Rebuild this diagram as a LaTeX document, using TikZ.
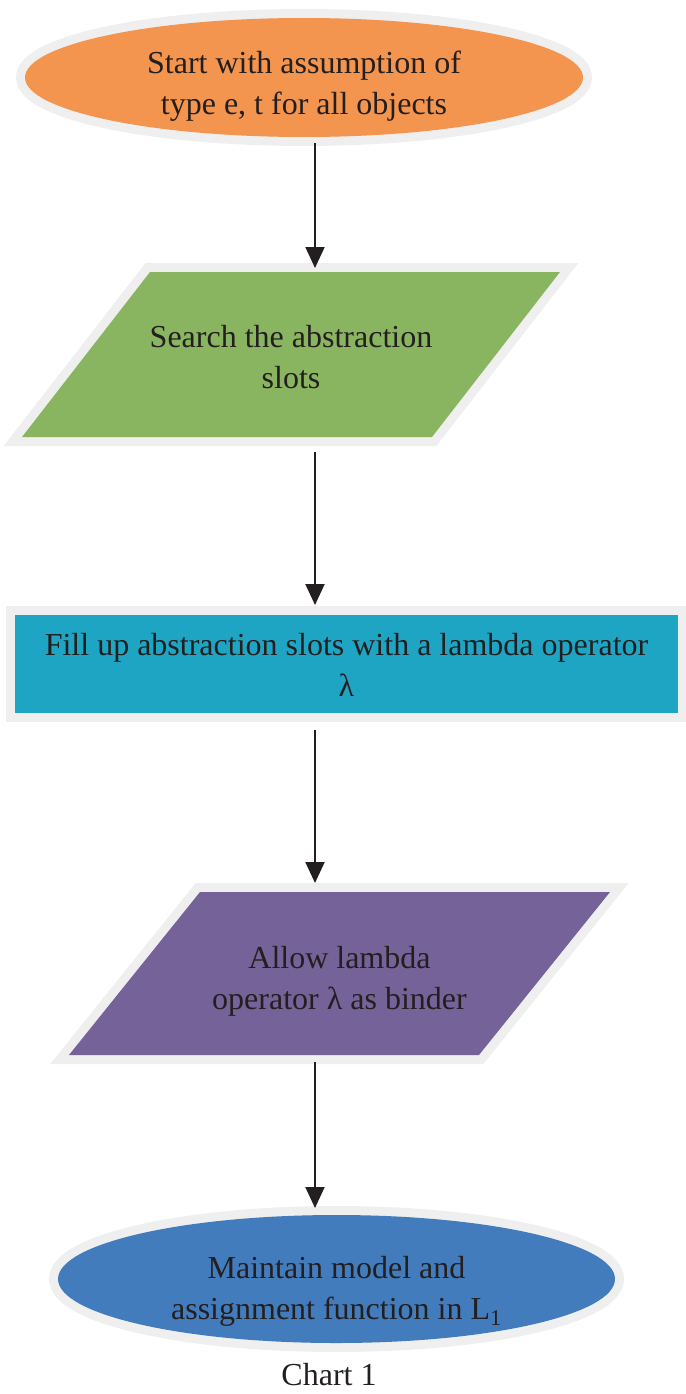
\documentclass[tikz,border=0pt]{standalone}
\usepackage{fontspec}
\setmainfont{Liberation Serif}
\usetikzlibrary{shapes.geometric,arrows.meta}
\definecolor{edgegray}{HTML}{EFEFEF}
\definecolor{txt}{HTML}{231F20}
\definecolor{orangec}{HTML}{F3944F}
\definecolor{greenc}{HTML}{8AB560}
\definecolor{tealc}{HTML}{1FA5C4}
\definecolor{purplec}{HTML}{756298}
\definecolor{bluec}{HTML}{437CBC}
\begin{document}
\begin{tikzpicture}[x=1pt,y=-1pt,
  rim/.style={preaction={draw=edgegray, line width=18pt}},
  box/.style={inner sep=0pt, outer sep=0pt, rim},
  frame/.style={inner sep=0pt, outer sep=0pt},
  lbl/.style={inner sep=0pt, align=center, text=txt, font=\fontsize{32}{41}\selectfont},
  arr/.style={draw=txt, line width=2pt,
    -{Triangle[length=21pt,width=19pt]}}]
\useasboundingbox (0,0) rectangle (685,1394);
\coordinate (ax) at (315,0);
% start
\node[box, ellipse, fill=orangec, minimum width=558pt, minimum height=119pt] (start) at (304,77.5) {};
\node[lbl] (start-text) at (304,86) {Start with assumption of\\type e, t for all objects};
% search (parallelogram)
\node[frame, minimum width=538pt, minimum height=165pt] (search) at (291,354.5) {};
\path[fill=greenc, rim] ([xshift=128pt]search.north west) -- (search.north east)
  -- ([xshift=-128pt]search.south east) -- (search.south west) -- cycle;
\node[lbl] (search-text) at (291,357.5) {Search the abstraction\\slots};
% fill
\node[box, rectangle, fill=tealc, minimum width=663pt, minimum height=98pt] (fill) at (346.5,664) {};
\node[lbl] (fill-text) at (346.5,665) {Fill up abstraction slots with a lambda operator\\λ};
% allow (parallelogram)
\node[frame, minimum width=541pt, minimum height=163pt] (allow) at (339.5,973.5) {};
\path[fill=purplec, rim] ([xshift=131pt]allow.north west) -- (allow.north east)
  -- ([xshift=-131pt]allow.south east) -- (allow.south west) -- cycle;
\node[lbl] (allow-text) at (339.5,981.5) {Allow lambda\\operator λ as binder};
% maintain
\node[box, ellipse, fill=bluec, minimum width=557pt, minimum height=128pt] (maintain) at (336.5,1279) {};
\node[lbl] (maintain-text) at (336.5,1291) {Maintain model and\\assignment function in L\textsubscript{1}};
\node[lbl] (caption) at (329,1375) {Chart 1};
% connectors
\draw[arr, shorten <=6pt, shorten >=4pt] (start.south -| ax) -- (search.north -| ax);
\draw[arr, shorten <=15pt, shorten >=10pt] (search.south -| ax) -- (fill.north -| ax);
\draw[arr, shorten <=17pt, shorten >=9pt] (fill.south -| ax) -- (allow.north -| ax);
\draw[arr, shorten <=7pt, shorten >=7pt] (allow.south -| ax) -- (maintain.north -| ax);
\end{tikzpicture}
\end{document}
